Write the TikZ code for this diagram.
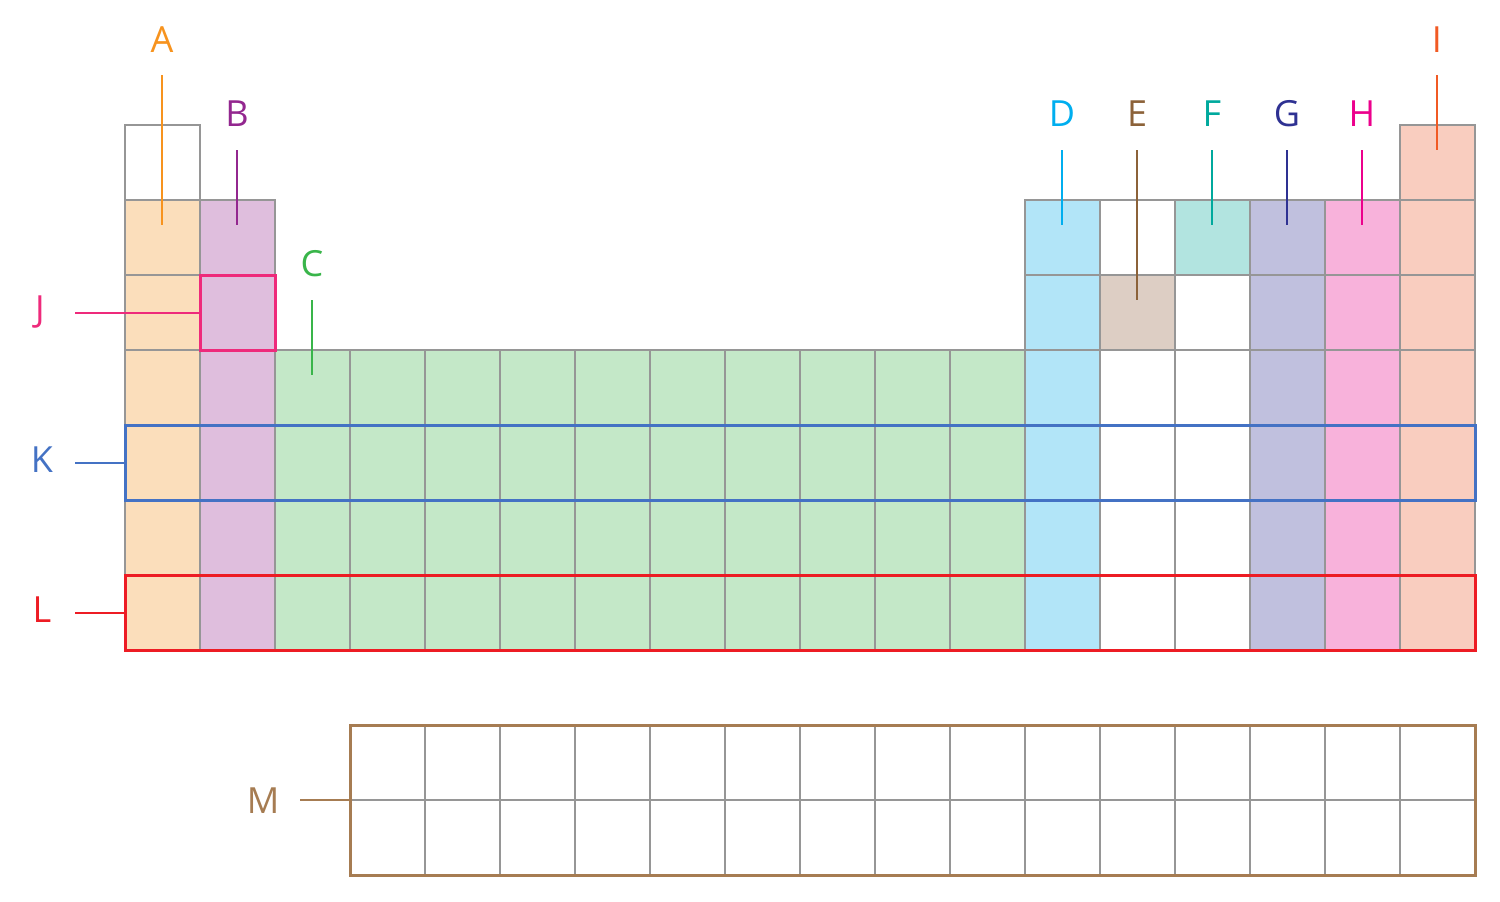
\documentclass[tikz,border=0pt]{standalone}
\usepackage{fontspec}
\setmainfont{Open Sans}
\definecolor{gridc}{HTML}{969696}
\definecolor{fA}{HTML}{FBDEBB}
\definecolor{fB}{HTML}{DFBEDD}
\definecolor{fC}{HTML}{C4E8C8}
\definecolor{fD}{HTML}{B2E5F8}
\definecolor{fE}{HTML}{DDCEC4}
\definecolor{fF}{HTML}{B2E4E0}
\definecolor{fG}{HTML}{C0C0DE}
\definecolor{fH}{HTML}{F8B2DB}
\definecolor{fI}{HTML}{F9CDBF}
\definecolor{cA}{HTML}{F7931E}
\definecolor{cB}{HTML}{93278F}
\definecolor{cC}{HTML}{39B54A}
\definecolor{cD}{HTML}{00AEEF}
\definecolor{cE}{HTML}{8C6239}
\definecolor{cF}{HTML}{00A99D}
\definecolor{cG}{HTML}{2E3192}
\definecolor{cH}{HTML}{EC008C}
\definecolor{cI}{HTML}{F15A24}
\definecolor{cJ}{HTML}{EE2A7B}
\definecolor{cK}{HTML}{4472C4}
\definecolor{cL}{HTML}{ED1C24}
\definecolor{cM}{HTML}{A67C52}
\tikzset{
  lbl/.style={anchor=base, inner sep=0pt, font=\fontsize{18}{20}\selectfont},
  gridline/.style={draw=gridc, line width=1pt},
  pointer/.style={line width=1pt},
  framebox/.style={line width=1.5pt, line join=miter}
}
\begin{document}
\begin{tikzpicture}[x=0.5pt, y=-0.5pt]
\useasboundingbox (0,0) rectangle (1500,901);
% fills
\fill[fA] (125,200) rectangle (200,650);
\fill[fB] (200,200) rectangle (275,650);
\fill[fC] (275,350) rectangle (1025,650);
\fill[fD] (1025,200) rectangle (1100,650);
\fill[fE] (1100,275) rectangle (1175,350);
\fill[fF] (1175,200) rectangle (1250,275);
\fill[fG] (1250,200) rectangle (1325,650);
\fill[fH] (1325,200) rectangle (1400,650);
\fill[fI] (1400,125) rectangle (1475,650);
% grid
\foreach \r in {1,...,7} {
  \draw[gridline] (125,{125+75*(\r-1)}) rectangle ++(75,75);
  \draw[gridline] (1400,{125+75*(\r-1)}) rectangle ++(75,75);
}
\foreach \r in {2,...,7} {
  \draw[gridline] (200,{125+75*(\r-1)}) rectangle ++(75,75);
  \foreach \c in {13,...,17}
    \draw[gridline] ({125+75*(\c-1)},{125+75*(\r-1)}) rectangle ++(75,75);
}
\foreach \r in {4,...,7}
  \foreach \c in {3,...,12}
    \draw[gridline] ({125+75*(\c-1)},{125+75*(\r-1)}) rectangle ++(75,75);
\foreach \r in {0,1}
  \foreach \c in {0,...,14}
    \draw[gridline] ({350+75*\c},{725+75*\r}) rectangle ++(75,75);
% labels
\node[lbl, text=cA] (lA) at (162,52) {A};
\node[lbl, text=cB] (lB) at (237,126) {B};
\node[lbl, text=cC] (lC) at (312,276) {C};
\node[lbl, text=cD] (lD) at (1062,126) {D};
\node[lbl, text=cE] (lE) at (1137,126) {E};
\node[lbl, text=cF] (lF) at (1212,126) {F};
\node[lbl, text=cG] (lG) at (1287,126) {G};
\node[lbl, text=cH] (lH) at (1362,126) {H};
\node[lbl, text=cI] (lI) at (1437,52) {I};
\node[lbl, text=cJ] (lJ) at (40,321) {J};
\node[lbl, text=cK] (lK) at (42,472) {K};
\node[lbl, text=cL] (lL) at (42,622) {L};
\node[lbl, text=cM] (lM) at (263,813) {M};
% pointer endpoints
\coordinate (a0) at (162,75);  \coordinate (a1) at (162,225);
\coordinate (b0) at (237,150); \coordinate (b1) at (237,225);
\coordinate (c0) at (312,300); \coordinate (c1) at (312,375);
\coordinate (d0) at (1062,150); \coordinate (d1) at (1062,225);
\coordinate (e0) at (1137,150); \coordinate (e1) at (1137,300);
\coordinate (f0) at (1212,150); \coordinate (f1) at (1212,225);
\coordinate (g0) at (1287,150); \coordinate (g1) at (1287,225);
\coordinate (h0) at (1362,150); \coordinate (h1) at (1362,225);
\coordinate (i0) at (1437,75);  \coordinate (i1) at (1437,150);
\coordinate (j0) at (75,313);  \coordinate (j1) at (200,313);
\coordinate (k0) at (75,463);  \coordinate (k1) at (125,463);
\coordinate (l0) at (75,613);  \coordinate (l1) at (125,613);
\coordinate (m0) at (300,800); \coordinate (m1) at (350,800);
\draw[pointer, cA] (a0) -- (a1);
\draw[pointer, cB] (b0) -- (b1);
\draw[pointer, cC] (c0) -- (c1);
\draw[pointer, cD] (d0) -- (d1);
\draw[pointer, cE] (e0) -- (e1);
\draw[pointer, cF] (f0) -- (f1);
\draw[pointer, cG] (g0) -- (g1);
\draw[pointer, cH] (h0) -- (h1);
\draw[pointer, cI] (i0) -- (i1);
\draw[pointer, cJ] (j0) -- (j1);
\draw[pointer, cK] (k0) -- (k1);
\draw[pointer, cL] (l0) -- (l1);
\draw[pointer, cM] (m0) -- (m1);
% frames
\draw[framebox, cJ] (200,275) rectangle (275,350);
\draw[framebox, cK] (125,425) rectangle (1475,500);
\draw[framebox, cL] (125,575) rectangle (1475,650);
\draw[framebox, cM] (350,725) rectangle (1475,875);
\end{tikzpicture}
\end{document}
